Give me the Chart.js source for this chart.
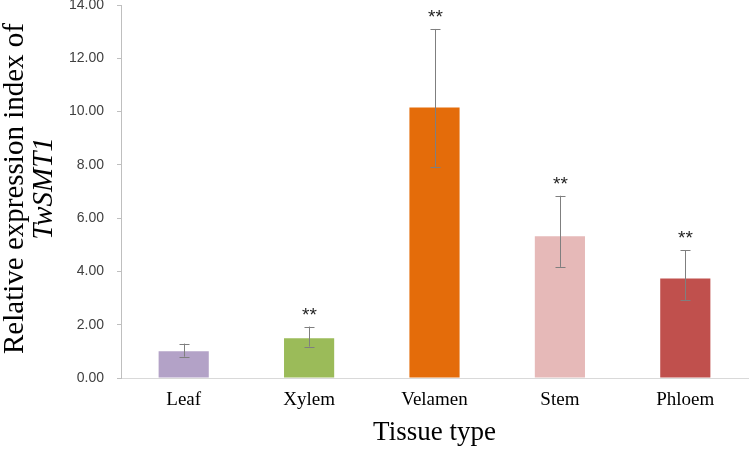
<!DOCTYPE html>
<html>
<head>
<meta charset="utf-8">
<script src="https://cdn.jsdelivr.net/npm/chart.js@4.4.1/dist/chart.umd.min.js"></script>
<style>
  html, body { margin: 0; padding: 0; background: #fff; }
  #wrap { width: 750px; height: 449px; }
</style>
</head>
<body>
<div id="wrap"><canvas id="tissueChart"></canvas></div>
<script>
const tissues = ['Leaf', 'Xylem', 'Velamen', 'Stem', 'Phloem']
const expression = [1.00, 1.49, 10.15, 5.32, 3.73]
const errUpper = [1.29, 1.93, 13.10, 6.84, 4.80]
const errLower = [0.80, 1.18, 7.93, 4.17, 2.93]
const significance = ['', '**', '**', '**', '**']
const barColors = ['#b3a2c7', '#9bbb59', '#e46c0a', '#e6b9b8', '#c0504d']
const yMin = 0, yMax = 14, yStep = 2

// error bars, asterisks and axis titles
const extras = {
  id: 'extras',
  afterDatasetsDraw(chart) {
    const ctx = chart.ctx
    const x = chart.scales.x, y = chart.scales.y
    ctx.save()
    ctx.strokeStyle = '#7f7f7f'
    ctx.lineWidth = 1
    tissues.forEach((t, i) => {
      const cx = Math.round(x.getPixelForValue(i)) + 0.5
      const top = y.getPixelForValue(errUpper[i])
      const bot = y.getPixelForValue(errLower[i])
      ctx.beginPath()
      ctx.moveTo(cx, top); ctx.lineTo(cx, bot)
      ctx.moveTo(cx - 5, Math.round(top) + 0.5); ctx.lineTo(cx + 5, Math.round(top) + 0.5)
      ctx.moveTo(cx - 5, Math.round(bot) + 0.5); ctx.lineTo(cx + 5, Math.round(bot) + 0.5)
      ctx.stroke()
      if (significance[i]) {
        ctx.fillStyle = '#1f1f1f'
        ctx.font = '19px "Liberation Sans", sans-serif'
        ctx.textAlign = 'center'
        ctx.textBaseline = 'alphabetic'
        ctx.fillText(significance[i], cx, top - 6)
      }
    })
    ctx.restore()
  },
  afterDraw(chart) {
    const ctx = chart.ctx
    const area = chart.chartArea
    ctx.save()
    ctx.fillStyle = '#000'
    ctx.textAlign = 'center'
    ctx.textBaseline = 'middle'
    ctx.font = '27px "Liberation Serif", serif'
    ctx.fillText('Tissue type', (area.left + area.right) / 2, 433)
    const midY = (area.top + area.bottom) / 2 - 3
    ctx.translate(15, midY)
    ctx.rotate(-Math.PI / 2)
    ctx.font = '29px "Liberation Serif", serif'
    ctx.fillText('Relative expression index of', 0, 0)
    ctx.font = 'italic 29px "Liberation Serif", serif'
    ctx.fillText('TwSMT1', 0, 29)
    ctx.restore()
  }
}

new Chart(document.getElementById('tissueChart'), {
  type: 'bar',
  data: {
    labels: tissues,
    datasets: [{
      data: expression,
      backgroundColor: barColors,
      borderWidth: 0,
      barPercentage: 0.4,
      categoryPercentage: 1
    }]
  },
  options: {
    responsive: true,
    maintainAspectRatio: false,
    animation: false,
    layout: { padding: { top: 5, right: 2, left: 0, bottom: 0 } },
    plugins: {
      legend: { display: false },
      tooltip: { enabled: false }
    },
    scales: {
      x: {
        grid: { display: false, drawTicks: false },
        border: { display: true, color: '#d9d9d9', width: 1 },
        ticks: {
          padding: 11,
          color: '#000',
          font: { family: '"Liberation Serif", serif', size: 19 }
        },
        afterFit(s) { s.height = 71; s.paddingLeft = 0; s.paddingRight = 0 }
      },
      y: {
        min: yMin,
        max: yMax,
        ticks: {
          stepSize: yStep,
          padding: 13,
          color: '#404040',
          font: { family: '"Liberation Sans", sans-serif', size: 14 },
          callback: v => v.toFixed(2)
        },
        grid: { display: true, drawOnChartArea: false, drawTicks: true, tickLength: 4, color: '#bfbfbf' },
        border: { display: true, color: '#bfbfbf', width: 1 },
        afterFit(s) { s.width = 121; s.paddingTop = 0; s.paddingBottom = 0 }
      }
    }
  },
  plugins: [extras]
})
</script>
</body>
</html>
